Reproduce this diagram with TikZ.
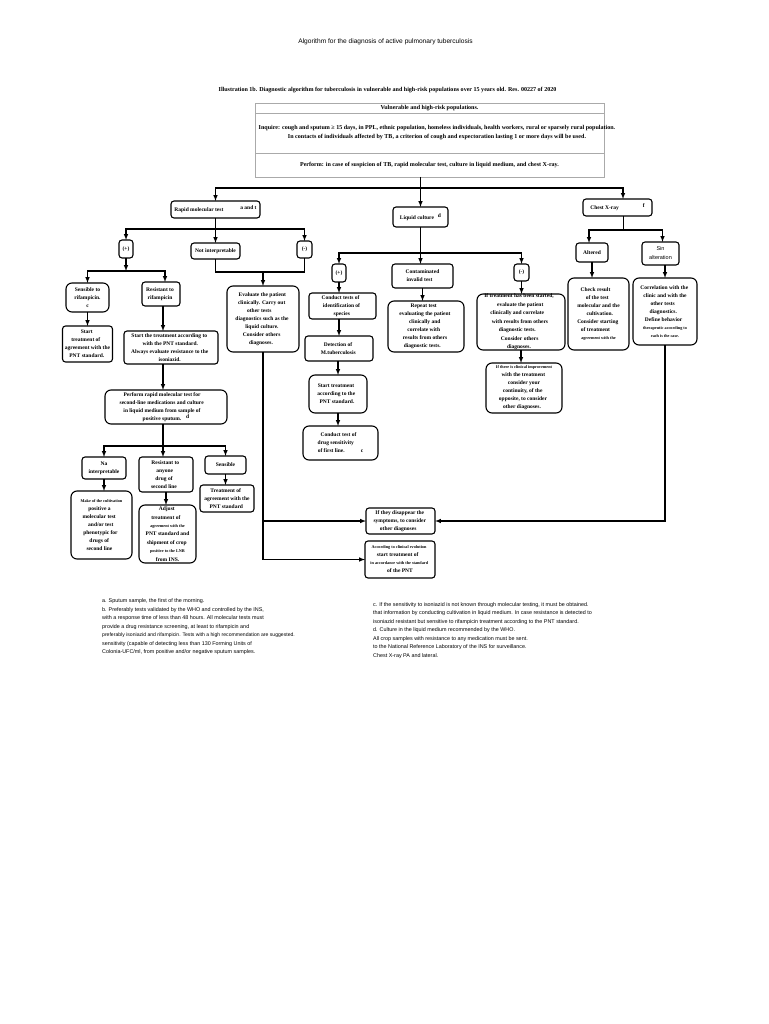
\documentclass[tikz,border=0pt]{standalone}
\usepackage{fontspec}
\setmainfont{Liberation Serif}
\newfontfamily\notefont{Liberation Sans}
\usepackage{xcolor}
\definecolor{lgray}{RGB}{170,170,170}
\usetikzlibrary{positioning, decorations.markings}
\newcommand{\smalltxt}{\fontsize{4.2}{8}\selectfont}
\newcommand{\supmark}[1]{\raisebox{2pt}{#1}}
\newcommand{\off}[1]{\hspace*{\dimexpr #1pt*2\relax}}
\tikzstyle{Line} = [line width=1.2pt]
\tikzstyle{Arrow} = [
line width=1.2pt,
decoration={
markings,
mark=at position 0.9999 with {
\arrow[line width=1pt]{latex}}},
shorten >= 3pt, preaction = {decorate}]
\tikzstyle{Box} = [
draw, line width=1.1pt, rounded corners=3pt,
outer sep=0pt, inner xsep=-20pt, inner ysep=-20pt, align=center,
font=\fontsize{5.5}{8}\selectfont\bfseries]
\tikzstyle{BigBox} = [Box, rounded corners=6pt]
\tikzstyle{Table} = [
draw=lgray, line width=0.8pt,
outer sep=0pt, inner xsep=-20pt, inner ysep=-20pt, align=center,
font=\fontsize{6.05}{9}\selectfont\bfseries]
\tikzstyle{Notes} = [
anchor=north west, align=left, inner sep=0pt,
font=\notefont\fontsize{5.4}{8.5}\selectfont]
\tikzset{Dim/.style 2 args={minimum width=#1pt, minimum height=#2pt}}

\begin{document}
\begin{tikzpicture}[x=1pt, y=-1pt]
    \useasboundingbox (0,0) rectangle (768,1024);

    \node [font=\notefont\fontsize{6.6}{8}\selectfont] (title) at (385.5,42) {Algorithm for the diagnosis of active pulmonary tuberculosis};
    \node [font=\fontsize{6.05}{8}\selectfont\bfseries] (illus) at (387.5,90) {Illustration 1b. Diagnostic algorithm for tuberculosis in vulnerable and high-risk populations over 15 years old. Res. 00227 of 2020};

    % header table
    \node [Table, Dim={349}{10}] (vuln) at (429.5,108) {Vulnerable and high-risk populations.};
    \node [Table, Dim={349}{40}, below=0pt of vuln] (inq) {\hspace*{15pt}Inquire: cough and sputum ≥ 15 days, in PPL, ethnic population, homeless individuals, health workers, rural or sparsely rural population.\\ \hspace*{15pt}In contacts of individuals affected by TB, a criterion of cough and expectoration lasting 1 or more days will be used.};
    \node [Table, Dim={349}{24}, below=0pt of inq] (perf) {Perform: in case of suspicion of TB, rapid molecular test, culture in liquid medium, and chest X-ray.};

    % three tests
    \node [Box, Dim={89}{17}] (rapid) at (215.5,209.5) {Rapid molecular test\hspace{17pt}\supmark{a and t}};
    \node [Box, Dim={55}{20}] (liquid) at (420.5,217) {Liquid culture\hspace{4pt}\supmark{d}};
    \node [Box, Dim={69}{17}] (chest) at (617.5,207.5) {Chest X-ray\hspace{24pt}\supmark{f}};

    % molecular test branch
    \node [Box, Dim={14}{18}, below=22pt of rapid, xshift=-89.5pt] (pos) {(+)};
    \node [Box, Dim={49}{16}, below=25pt of rapid] (notint) {Not interpretable};
    \node [Box, Dim={15}{17}, below=23pt of rapid, xshift=89pt] (neg) {(-)};
    \node [BigBox, Dim={43}{29}, below=25pt of pos, xshift=-38.5pt] (sens) {Sensible to\\rifampicin.\\c};
    \node [Box, Dim={38}{24}, below=24pt of pos, xshift=35pt] (resi) {\off{-1}Resistant to\\\off{-1}rifampicin};
    \node [Box, Dim={50}{36}, below=14pt of sens] (starta) {\off{-.7}Start\\\off{-1.7}treatment of\\agreement with the\\\off{-.7}PNT standard.};
    \node [Box, Dim={94}{33}, below=25pt of resi, xshift=10pt] (startb) {\off{-1.7}Start the treatment according to\\\off{-.7}with the PNT standard.\\\off{-1.3}Always evaluate resistance to the\\\off{-1.3}isoniazid.};
    \node [BigBox, Dim={122}{34}, below=26pt of startb, xshift=-5pt] (perfm) {\off{-4}Perform rapid molecular test for\\\off{-4.3}second-line medications and culture\\\off{-4}in liquid medium from sample of\\positive sputum.\hspace{5pt}\supmark{d}};
    \node [Box, Dim={44}{22}, below=33pt of perfm, xshift=-62pt] (na) {Na\\interpretable};
    \node [Box, Dim={54}{35}, below=33pt of perfm] (resb) {\off{-.7}Resistant to\\\off{-1.3}anyone\\\off{-2}drug of\\\off{-2}second line};
    \node [Box, Dim={41}{18}, below=32pt of perfm, xshift=59.5pt] (sensb) {Sensible};
    \node [BigBox, Dim={61}{68}, below=12pt of na, xshift=-2.5pt] (make) {{\smalltxt Make of the cultivation}\\\off{-2}positive a\\\off{-2.3}molecular test\\\off{-.7}and/or test\\\off{-1}phenotypic for\\\off{-2.3}drugs of\\\off{-2}second line};
    \node [BigBox, Dim={57}{58}, below=13pt of resb, xshift=1.5pt, font=\fontsize{5.5}{8.4}\selectfont\bfseries] (adjust) {\off{-.7}Adjust\\\off{-1.7}treatment of\\{\smalltxt agreement with the}\\PNT standard and\\\off{-.7}shipment of crop\\{\smalltxt positive to the LNR}\\from INS.};
    \node [Box, Dim={54}{27}, below=11pt of sensb, xshift=1.5pt] (treat) {\off{-1.3}Treatment of\\agreement with the\\\off{-.7}PNT standard};
    \node [BigBox, Dim={72}{66}, below=27pt of notint, xshift=47.5pt] (eval) {\off{-.7}Evaluate the patient\\\off{-1.3}clinically. Carry out\\\off{-3.7}other tests\\\off{-1}diagnostics such as the\\\off{-1}liquid culture.\\\off{-1.3}Consider others\\\off{-2}diagnoses.};

    % culture branch
    \node [Box, Dim={14}{18}, below=37pt of liquid, xshift=-81.5pt] (posb) {(+)};
    \node [Box, Dim={61}{24}, below=37pt of liquid, xshift=2pt] (cont) {Contaminated\\\off{-3}invalid test};
    \node [Box, Dim={15}{17}, below=37pt of liquid, xshift=101pt] (negb) {(-)};
    \node [Box, Dim={67}{26}, below=11pt of posb, xshift=3.5pt] (condu) {\off{-2}Conduct tests of\\\off{-1}identification of\\\off{-.7}species};
    \node [Box, Dim={68}{25}, below=17pt of condu, xshift=-3.5pt] (detec) {\off{-1}Detection of\\\off{-.7}M.tuberculosis};
    \node [BigBox, Dim={58}{38}, below=14pt of detec, xshift=-1pt] (startc) {\off{-2}Start treatment\\\off{-1.7}according to the\\\off{-1}PNT standard.};
    \node [BigBox, Dim={75}{34}, below=13pt of startc, xshift=2.5pt] (drug) {\off{-2}Conduct test of\\\off{-4.7}drug sensitivity\\of first line.\hspace{16pt}c};
    \node [BigBox, Dim={76}{51}, below=13pt of cont, xshift=3.5pt] (repeat) {\off{-2.3}Repeat test\\\off{-1}evaluating the patient\\\off{-1.3}clinically and\\\off{-2.3}correlate with\\\off{-1}results from others\\\off{-3.7}diagnostic tests.};
    \node [BigBox, Dim={88}{56}, below=13pt of negb, xshift=-0.5pt, font=\fontsize{5.5}{8.5}\selectfont\bfseries] (iftr) {\off{-2}If treatment has been started,\\\off{-.7}evaluate the patient\\\off{-3.7}clinically and correlate\\\off{-1}with results from others\\\off{-3.7}diagnostic tests.\\\off{-1.3}Consider others\\\off{-2}diagnoses.};
    \node [BigBox, Dim={76}{50}, below=13pt of iftr, xshift=3pt] (ifth) {{\smalltxt If there is clinical improvement}\\\off{-.7}with the treatment\\consider your\\\off{-1.3}continuity, of the\\\off{-1}opposite, to consider\\\off{-2}other diagnoses.};

    % chest branch
    \node [Box, Dim={32}{19}, below=27pt of chest, xshift=-25.5pt] (alt) {Altered};
    \node [Box, Dim={37}{23}, below=26pt of chest, xshift=43pt, font=\notefont\fontsize{5.5}{9}\selectfont] (sina) {Sin\\alteration};
    \node [BigBox, Dim={61}{72}, below=16pt of alt, xshift=6.5pt] (check) {\off{-3}Check result\\\off{-1.3}of the test\\molecular and the\\\off{1.3}cultivation.\\\off{-.7}Consider starting\\\off{-3}of treatment\\{\smalltxt agreement with the}};
    \node [BigBox, Dim={64}{67}, below=13pt of sina, xshift=4.5pt] (corr) {\off{-.7}Correlation with the\\clinic and with the\\\off{-2.3}other tests\\\off{-1.7}diagnostics.\\\off{-1.3}Define behavior\\{\smalltxt therapeutic according to}\\{\smalltxt each is the case.}};

    % closing boxes
    \node [Box, Dim={69}{26}] (ifd) at (400.5,521) {\off{-.7}If they disappear the\\\off{-.7}symptoms, to consider\\\off{-2.3}other diagnoses};
    \node [Box, Dim={70}{37}, below=7pt of ifd, xshift=-0.5pt] (acc) {\off{-1}{\smalltxt According to clinical evolution}\\\off{-2.3}start treatment of\\\off{-.7}{\smalltxt in accordance with the standard}\\of the PNT};

    % footnotes
    \node [Notes] (notesa) at (102,598.5) {a. Sputum sample, the first of the morning.\\b. Preferably tests validated by the WHO and controlled by the INS,\\with a response time of less than 48 hours. All molecular tests must\\provide a drug resistance screening, at least to rifampicin and\\{\fontsize{5.1}{8.5}\selectfont preferably isoniazid and rifampicin. Tests with a high recommendation are suggested.}\\sensitivity (capable of detecting less than 130 Forming Units of\\Colonia-UFC/ml, from positive and/or negative sputum samples.};
    \node [Notes] (notesb) at (373,602) {c. If the sensitivity to isoniazid is not known through molecular testing, it must be obtained.\\that information by conducting cultivation in liquid medium. In case resistance is detected to\\isoniazid resistant but sensitive to rifampicin treatment according to the PNT standard.\\d. Culture in the liquid medium recommended by the WHO.\\All crop samples with resistance to any medication must be sent.\\to the National Reference Laboratory of the INS for surveillance.\\Chest X-ray PA and lateral.};

    % junctions
    \coordinate [below=11pt of perf.south -| liquid] (topbus);
    \coordinate [below=11pt of rapid] (rbus);
    \coordinate [below=13pt of pos] (pbus);
    \coordinate (nbus) at (eval.north |- 0,272);
    \coordinate [below=22pt of perfm, xshift=-3pt] (pfbus);
    \coordinate [below=26pt of liquid] (lbus);
    \coordinate [below=14pt of chest, xshift=6pt] (cbus);

    \draw[Arrow] (perf.south -| liquid) -- (liquid.north);
    \draw[Arrow] (topbus) -| (rapid.north);
    \draw[Arrow] (topbus) -| ([xshift=5.5pt]chest.north);

    \draw[Line] (rapid.south) -- (rbus);
    \draw[Arrow] (rbus) -| (pos.north);
    \draw[Arrow] (rbus) -- (notint.north);
    \draw[Arrow] (rbus) -| (neg.north);
    \draw[Arrow] (pos.south) -- (pbus);
    \draw[Arrow] (pbus) -| (sens.north);
    \draw[Arrow] (pbus) -| ([xshift=4pt]resi.north);
    \draw[Arrow] (sens.south) -- (starta.north);
    \draw[Arrow] (resi.south -| pfbus) -- (startb.north -| pfbus);
    \draw[Arrow] (startb.south -| pfbus) -- (perfm.north -| pfbus);
    \draw[Line] (perfm.south -| pfbus) -- (pfbus);
    \draw[Arrow] (pfbus) -| (na.north);
    \draw[Arrow] (pfbus) -- (resb.north -| pfbus);
    \draw[Arrow] (pfbus) -| (sensb.north);
    \draw[Arrow] (na.south) -- (na.south |- make.north);
    \draw[Arrow] (resb.south) -- (resb.south |- adjust.north);
    \draw[Arrow] (sensb.south) -- (sensb.south |- treat.north);

    \draw[Line] (notint.south) |- (nbus);
    \draw[Line] (neg.south) |- (nbus);
    \draw[Arrow] (nbus) -- (eval.north);
    \draw[Arrow] (eval.south) |- (ifd.west);
    \draw[Arrow] (eval.south) |- (acc.west);

    \draw[Line] (liquid.south) -- (lbus);
    \draw[Arrow] (lbus) -| (posb.north);
    \draw[Arrow] (lbus) -- (cont.north -| lbus);
    \draw[Arrow] (lbus) -| (negb.north);
    \draw[Arrow] (posb.south) -- (posb.south |- condu.north);
    \draw[Arrow] (detec.north |- condu.south) -- (detec.north);
    \draw[Arrow] (startc.north |- detec.south) -- (startc.north);
    \draw[Arrow] (startc.south) -- (startc.south |- drug.north);
    \draw[Arrow] (cont.south) -- (cont.south |- repeat.north);
    \draw[Arrow] (negb.south) -- (negb.south |- iftr.north);
    \draw[Arrow] (iftr.south) -- (iftr.south |- ifth.north);

    \draw[Line] (chest.south -| cbus) -- (cbus);
    \draw[Arrow] (cbus) -| ([xshift=-3pt]alt.north);
    \draw[Arrow] (cbus) -| ([xshift=2pt]sina.north);
    \draw[Arrow] (alt.south) -- (alt.south |- check.north);
    \draw[Arrow] (corr.north |- sina.south) -- (corr.north);
    \draw[Arrow] (corr.south) |- (ifd.east);
\end{tikzpicture}
\end{document}
